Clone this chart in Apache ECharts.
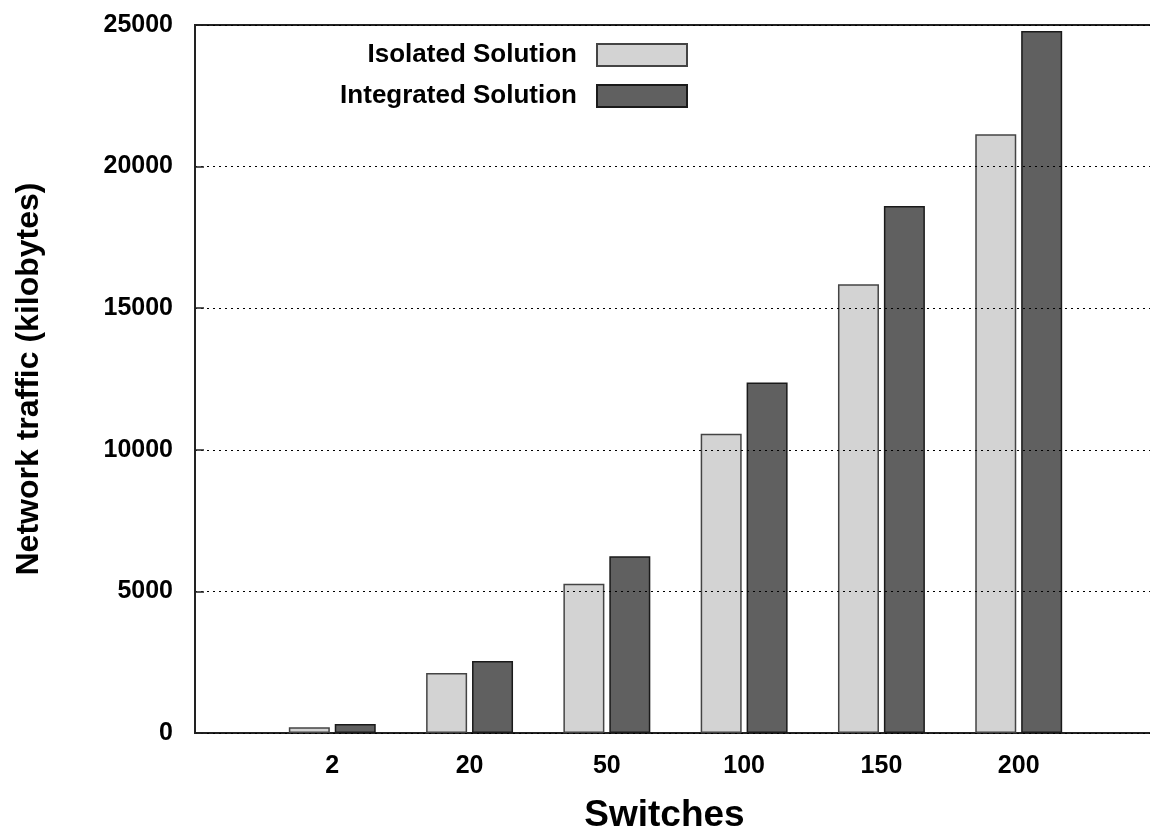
<!DOCTYPE html>
<html>
<head>
<meta charset="utf-8">
<script src="https://cdn.jsdelivr.net/npm/echarts@6/dist/echarts.min.js"></script>
<style>
  html, body { margin: 0; padding: 0; background: #fff; }
  #chart { width: 1150px; height: 829px; }
</style>
</head>
<body>
<div id="chart"></div>
<script>
// switches per run
const categories = ['2', '20', '50', '100', '150', '200'];
// network traffic in kilobytes
const isolated = [200, 2120, 5270, 10570, 15850, 21140];
const integrated = [320, 2540, 6240, 12380, 18610, 24790];
const yTicks = [0, 5000, 10000, 15000, 20000, 25000];

// gnuplot style x range: one empty slot on each side
const xData = [''].concat(categories, ['']);
const pad = (arr) => [null].concat(arr, [null]);

const font = "'Liberation Sans', Arial, sans-serif";

const chart = echarts.init(document.getElementById('chart'));

const option = {
  animation: false,
  textStyle: { fontFamily: font },
  grid: {
    left: 195,
    width: 961,
    top: 25,
    bottom: 96,
    outerBoundsMode: 'none',
    show: true,
    borderColor: '#222',
    borderWidth: 2
  },
  legend: {
    orient: 'vertical',
    right: 457,
    top: 37,
    align: 'right',
    itemWidth: 90,
    itemHeight: 22,
    itemGap: 15,
    selectedMode: false,
    textStyle: {
      fontFamily: font,
      fontWeight: 'bold',
      fontSize: 26,
      color: '#000',
      padding: [0, 15, 0, 0]
    },
    data: [
      { name: 'Isolated Solution', icon: 'rect' },
      { name: 'Integrated Solution', icon: 'rect' }
    ]
  },
  xAxis: {
    type: 'category',
    data: xData,
    boundaryGap: false,
    name: 'Switches',
    nameLocation: 'middle',
    nameGap: 64,
    nameMoveOverlap: false,
    nameTextStyle: {
      fontFamily: font,
      fontWeight: 'bold',
      fontSize: 37,
      color: '#000',
      padding: [0, 22, 0, 0]
    },
    axisLine: { lineStyle: { color: '#222', width: 2 } },
    axisTick: { show: false },
    axisLabel: {
      interval: 0,
      margin: 21,
      fontFamily: font,
      fontWeight: 'bold',
      fontSize: 25,
      color: '#000'
    },
    splitLine: { show: false }
  },
  yAxis: {
    type: 'value',
    min: yTicks[0],
    max: yTicks[yTicks.length - 1],
    interval: 5000,
    z: 5,
    name: 'Network traffic (kilobytes)',
    nameLocation: 'middle',
    nameRotate: 90,
    nameGap: 150,
    nameMoveOverlap: false,
    nameTextStyle: {
      fontFamily: font,
      fontWeight: 'bold',
      fontSize: 32,
      color: '#000'
    },
    axisLine: { show: true, lineStyle: { color: '#222', width: 2 } },
    axisTick: { show: true, inside: true, length: 9, lineStyle: { color: '#222', width: 1.5 } },
    axisLabel: {
      margin: 22,
      fontFamily: font,
      fontWeight: 'bold',
      fontSize: 25,
      color: '#000',
      formatter: (v) => String(v)
    },
    splitLine: {
      show: true,
      lineStyle: { color: '#000', width: 1.2, type: [2, 4] }
    }
  },
  series: [
    {
      name: 'Isolated Solution',
      type: 'bar',
      data: pad(isolated),
      barWidth: 41,
      barGap: '12%',
      itemStyle: { color: '#d3d3d3', borderColor: '#444', borderWidth: 1.5 }
    },
    {
      name: 'Integrated Solution',
      type: 'bar',
      data: pad(integrated),
      barWidth: 41,
      barGap: '12%',
      itemStyle: { color: '#606060', borderColor: '#1a1a1a', borderWidth: 1.5 }
    }
  ]
};

chart.setOption(option);
</script>
</body>
</html>
